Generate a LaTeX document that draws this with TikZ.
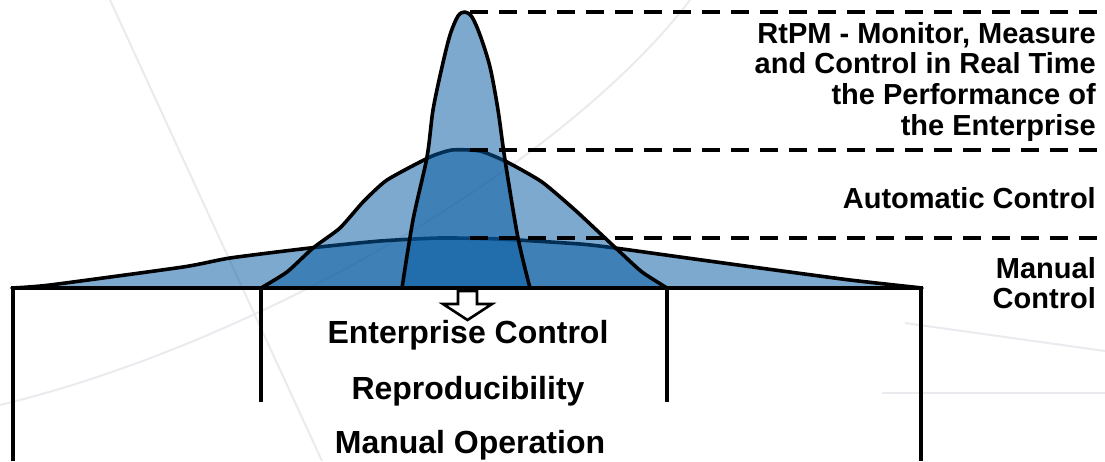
\documentclass[tikz,border=0pt]{standalone}
\usepackage{fontspec}
\setmainfont{Liberation Sans}
\usetikzlibrary{positioning}

\definecolor{layerblue}{RGB}{7,91,162}
\definecolor{faintgray}{RGB}{234,234,239}

\tikzset{
    layer/.style={draw=black, line width=3.6pt, line join=round, fill=layerblue, fill opacity=0.52},
    level/.style={line width=3.6pt, dash pattern=on 18pt off 11pt},
    frame/.style={line width=3.6pt},
    faint/.style={draw=faintgray, line width=2pt},
    sidelbl/.style={font=\bfseries\fontsize{29}{30.7}\selectfont, align=right, inner sep=0pt},
    midlbl/.style={font=\bfseries\fontsize{32}{34}\selectfont, inner sep=0pt, anchor=base}
}

\begin{document}
\begin{tikzpicture}[x=1pt, y=-1pt]
    \useasboundingbox (0, 0) rectangle (1105, 461);
    \draw[faint] (110, 0) -- (322, 461);
    \draw[faint] (0, 405) .. controls (250, 345) and (560, 170) .. (690, 0);
    \draw[faint] (905, 323) -- (1105, 351);
    \draw[faint] (882, 393) -- (1105, 393);

    \draw[layer] plot[smooth, tension=0.35] coordinates {(12, 288) (50, 285) (183, 267) (230, 258) (310, 248) (380, 241) (440, 238) (500, 239) (580, 244) (615, 248) (680, 257) (760, 268) (850, 280) (922, 288)} -- cycle;
    \draw[layer] plot[smooth, tension=0.35] coordinates {(261, 288) (287, 272) (313, 248) (340, 228) (363, 202) (387, 180) (430, 157) (452, 150) (480, 151) (507, 162) (542, 182) (575, 210) (605, 238) (620, 252) (642, 272) (667, 288)} -- cycle;
    \draw[layer] plot[smooth, tension=0.5] coordinates {(402, 288) (413, 220) (427, 157) (433, 110) (442, 67) (450, 35) (458, 16) (465, 12) (472, 17) (480, 35) (490, 67) (498, 110) (505, 160) (518, 238) (530, 288)} -- cycle;

    \coordinate (top) at (470, 12);
    \coordinate (mid) at (470, 150);
    \coordinate (low) at (470, 238);
    \draw[level] (top) -- (1100, 12);
    \draw[level] (mid) -- (1100, 150);
    \draw[level] (low) -- (1100, 238);

    \draw[frame] (13, 461) -- (13, 288) -- (921, 288) -- (921, 461);
    \draw[frame] (261, 288) -- (261, 402);
    \draw[frame] (667, 288) -- (667, 402);
    \draw[line width=2.6pt, fill=white, line join=miter]
        (458, 291) -- (477, 291) -- (477, 304) -- (492, 304) -- (467.5, 320)
        -- (443, 304) -- (458, 304) -- cycle;

    \node[sidelbl, anchor=north east] (rtpm) at (1096, 22) {RtPM - Monitor, Measure\\and Control in Real Time\\the Performance of\\the Enterprise};
    \node[sidelbl, anchor=base east] (auto) at (1096, 208) {Automatic Control};
    \node[sidelbl, anchor=base east] (manual) at (1096, 278) {Manual};
    \node[sidelbl, anchor=base east] (manualctl) at (1096, 308) {Control};

    \node[midlbl] (enterprise) at (468, 343) {Enterprise Control};
    \node[midlbl] (repro) at (468, 399) {Reproducibility};
    \node[midlbl] (manop) at (470, 453) {Manual Operation};
\end{tikzpicture}
\end{document}
